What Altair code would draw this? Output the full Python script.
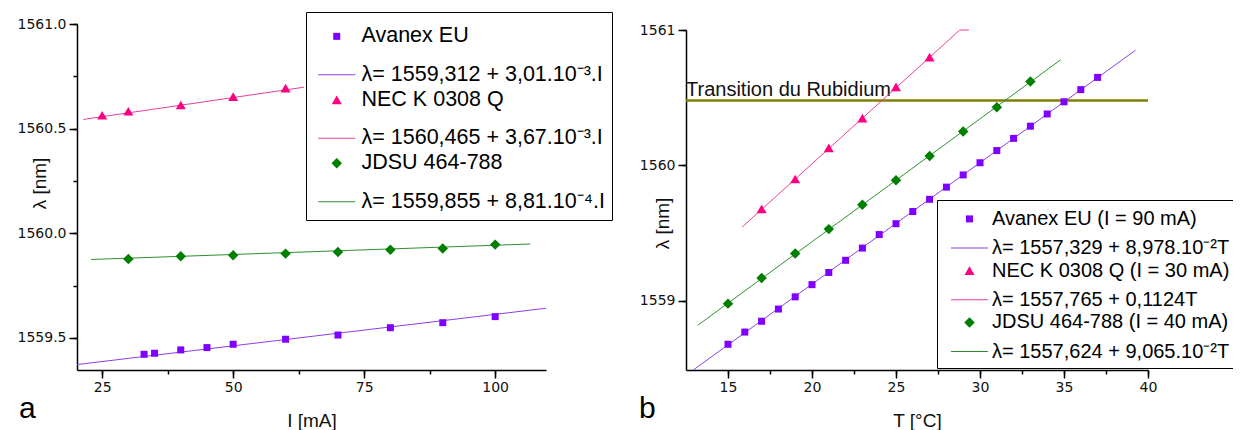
import altair as alt
import pandas as pd

FONT = "Liberation Sans"
TICKFONT = "DejaVu Sans"

# ---------------- panel a : wavelength vs current ----------------
a_I_avanex = [33, 35, 40, 45, 50, 60, 70, 80, 90, 100]
a_lam_avanex = [1559.422, 1559.427, 1559.443, 1559.454, 1559.470, 1559.494,
                1559.514, 1559.549, 1559.573, 1559.602]
a_I_nec = [25, 30, 40, 50, 60]
a_lam_nec = [1560.564, 1560.583, 1560.613, 1560.653, 1560.694]
a_I_jdsu = [30, 40, 50, 60, 70, 80, 90, 100]
a_lam_jdsu = [1559.877, 1559.890, 1559.895, 1559.903, 1559.911, 1559.922,
              1559.927, 1559.946]

a_fit_I_avanex = [20.2, 109.7]
a_fit_lam_avanex = [1559.373, 1559.642]
a_fit_I_nec = [21.4, 63.5]
a_fit_lam_nec = [1560.544, 1560.698]
a_fit_I_jdsu = [22.9, 106.7]
a_fit_lam_jdsu = [1559.875, 1559.949]

a_series = ["Avanex EU", "NEC K 0308 Q", "JDSU 464-788"]
a_fits = ["λ= 1559,312 + 3,01.10⁻³.I", "λ= 1560,465 + 3,67.10⁻³.I",
          "λ= 1559,855 + 8,81.10⁻⁴.I"]

a_x_domain = [20.2, 109.7]
a_y_domain = [1559.347, 1561.0]
a_x_major = [25, 50, 75, 100]
a_x_all = [25, 37.5, 50, 62.5, 75, 87.5, 100]
a_y_major = [1559.5, 1560.0, 1560.5, 1561.0]
a_y_all = [1559.5, 1559.75, 1560.0, 1560.25, 1560.5, 1560.75, 1561.0]

# ---------------- panel b : wavelength vs temperature ----------------
b_T_avanex = list(range(15, 38))
b_lam_avanex = [1558.68, 1558.77, 1558.85, 1558.94, 1559.03, 1559.12, 1559.21,
                1559.30, 1559.39, 1559.49, 1559.57, 1559.66, 1559.75, 1559.84,
                1559.93, 1560.02, 1560.11, 1560.20, 1560.29, 1560.38, 1560.47,
                1560.56, 1560.65]
b_T_nec = [17, 19, 21, 23, 25, 27]
b_lam_nec = [1559.68, 1559.90, 1560.13, 1560.35, 1560.58, 1560.80]
b_T_jdsu = [15, 17, 19, 21, 23, 25, 27, 29, 31, 33]
b_lam_jdsu = [1558.98, 1559.17, 1559.35, 1559.53, 1559.71, 1559.89, 1560.07,
              1560.25, 1560.43, 1560.62]

b_fit_T_avanex = [12.93, 39.25]
b_fit_lam_avanex = [1558.49, 1560.85]
b_fit_T_nec = [15.84, 28.8, 29.34]
b_fit_lam_nec = [1559.545, 1561.0, 1561.0]
b_fit_T_jdsu = [13.2, 34.8]
b_fit_lam_jdsu = [1558.82, 1560.78]

rb_label = ["Transition du Rubidium"]
rb_lambda = [1560.48]
rb_T_from = [12.5]
rb_T_to = [40.0]

b_series = ["Avanex EU (I = 90 mA)", "NEC K 0308 Q (I = 30 mA)",
            "JDSU 464-788 (I = 40 mA)"]
b_fits = ["λ= 1557,329 + 8,978.10⁻²T", "λ= 1557,765 + 0,1124T",
          "λ= 1557,624 + 9,065.10⁻²T"]

b_x_domain = [12.5, 40.0]
b_y_domain = [1558.49, 1561.0]
b_x_major = [15, 20, 25, 30, 35, 40]
b_x_all = [15, 17.5, 20, 22.5, 25, 27.5, 30, 32.5, 35, 37.5, 40]
b_y_major = [1559, 1560, 1561]
b_y_all = [1559, 1559.5, 1560, 1560.5, 1561]

# ---------------- styling ----------------
marker_colors = ["#7F00FF", "#FF0080", "#007F00"]
line_colors = ["#8A3FE6", "#E8409E", "#2F8F2F"]
marker_shapes = ["square", "triangle-up", "diamond"]
marker_sizes = [49, 100, 110]
LINE = "M-3.53,0H3.53"   # legend sample line, 37 px at symbol size 110

A_XR, A_YR = [69, 538], [362, 16]
B_XR, B_YR = [678, 1140], [362, 22]


def frame(xs, ys, label):
    return pd.DataFrame({"x": xs, "y": ys, "entry": label})


def labelled_axis(orient, values, step, fmt, title, offset, **kw):
    return alt.Axis(
        orient=orient, values=values, format=fmt, title=title, offset=offset,
        labelExpr=f"datum.value % {step} == 0 ? datum.label : ''",
        tickSize=4, grid=False, domainColor="black", domainWidth=1.5,
        tickColor="black", tickWidth=1.5, labelFont=TICKFONT, labelFontSize=14,
        labelColor="#111111", labelFlush=False, labelOverlap=False,
        titleFont=FONT, titleFontSize=19, titleFontWeight="normal",
        titleColor="#111111", **kw)


def major_tick_axis(orient, values, offset):
    return alt.Axis(orient=orient, values=values, labels=False, domain=False,
                    grid=False, tickSize=8, tickColor="black", tickWidth=1.5,
                    title=None, offset=offset)


def marker_legend(x, y, pad, row_pad, sym_off, lab_off, fs):
    return alt.Legend(title=None, orient="none", legendX=x, legendY=y,
                      padding=pad, labelFont=FONT, labelFontSize=fs,
                      labelColor="black", labelLimit=500, rowPadding=row_pad,
                      symbolOffset=sym_off, labelOffset=lab_off,
                      symbolStrokeWidth=0, zindex=2)


def line_legend(x, y, pad, row_pad, sym_off, lab_off, fs, head):
    # carries the white framed box; a blank title reserves the first row
    return alt.Legend(title=" ", titleFontSize=10, titlePadding=head,
                      titleColor="white", orient="none", legendX=x, legendY=y,
                      strokeColor="black", fillColor="white", padding=pad,
                      labelFont=FONT, labelFontSize=fs, labelColor="black",
                      labelLimit=500, rowPadding=row_pad, symbolOffset=sym_off,
                      labelOffset=lab_off, symbolType=LINE, symbolSize=110,
                      symbolStrokeWidth=1.2, zindex=1)


def scales(xdom, xrng, ydom, yrng):
    return (alt.Scale(domain=xdom, range=xrng, nice=False, zero=False),
            alt.Scale(domain=ydom, range=yrng, nice=False, zero=False))


def panel(pts, fits, series, fitnames, xdom, xrng, ydom, yrng, xall, xmaj,
          xstep, yall, ymaj, ystep, yfmt, xtitle, ytitle, ytx, yty, mleg, lleg):
    xs, ys = scales(xdom, xrng, ydom, yrng)
    yoff = -xrng[0]
    stroke = alt.Stroke("entry:N", scale=alt.Scale(domain=fitnames, range=line_colors),
                        legend=lleg)
    lines = alt.Chart(fits).mark_line(strokeWidth=1).encode(
        x=alt.X("x:Q", scale=xs,
                axis=labelled_axis("bottom", xall, xstep, "d", xtitle, 0,
                                   labelPadding=6, titleY=50,
                                   titleBaseline="middle")),
        y=alt.Y("y:Q", scale=ys,
                axis=labelled_axis("left", yall, ystep, yfmt, ytitle, yoff,
                                   labelPadding=7, titleX=ytx, titleY=yty,
                                   titleAngle=270, titleBaseline="middle",
                                   titleAlign="center")),
        stroke=stroke)
    points = alt.Chart(pts).mark_point(filled=True, opacity=1, strokeWidth=0).encode(
        x=alt.X("x:Q", scale=xs, axis=major_tick_axis("bottom", xmaj, 0)),
        y=alt.Y("y:Q", scale=ys, axis=major_tick_axis("left", ymaj, yoff)),
        fill=alt.Fill("entry:N", scale=alt.Scale(domain=series, range=marker_colors), legend=mleg),
        shape=alt.Shape("entry:N", scale=alt.Scale(domain=series, range=marker_shapes), legend=mleg),
        size=alt.Size("entry:N", scale=alt.Scale(type="ordinal", domain=series, range=marker_sizes), legend=mleg))
    return alt.layer(lines, points).resolve_axis(x="independent", y="independent")


# panel a
pts_a = pd.concat([frame(a_I_avanex, a_lam_avanex, a_series[0]),
                   frame(a_I_nec, a_lam_nec, a_series[1]),
                   frame(a_I_jdsu, a_lam_jdsu, a_series[2])])
fits_a = pd.concat([frame(a_fit_I_avanex, a_fit_lam_avanex, a_fits[0]),
                    frame(a_fit_I_nec, a_fit_lam_nec, a_fits[1]),
                    frame(a_fit_I_jdsu, a_fit_lam_jdsu, a_fits[2])])

panel_a = panel(pts_a, fits_a, a_series, a_fits, a_x_domain, A_XR, a_y_domain, A_YR,
                a_x_all, a_x_major, 25, a_y_all, a_y_major, 0.5, ".1f",
                "I [mA]", "λ [nm]", -38, 175,
                marker_legend(298, 10.6, 7, 40.5, 13, 14, 21.5),
                line_legend(298, 4, 7, 40.5, 13, 14, 21.5, 35))

# panel b
pts_b = pd.concat([frame(b_T_avanex, b_lam_avanex, b_series[0]),
                   frame(b_T_nec, b_lam_nec, b_series[1]),
                   frame(b_T_jdsu, b_lam_jdsu, b_series[2])])
fits_b = pd.concat([frame(b_fit_T_avanex, b_fit_lam_avanex, b_fits[0]),
                    frame(b_fit_T_nec, b_fit_lam_nec, b_fits[1]),
                    frame(b_fit_T_jdsu, b_fit_lam_jdsu, b_fits[2])])

panel_b = panel(pts_b, fits_b, b_series, b_fits, b_x_domain, B_XR, b_y_domain, B_YR,
                b_x_all, b_x_major, 5, b_y_all, b_y_major, 1, "d",
                "T [°C]", "λ [nm]", -24, 215,
                marker_legend(929, 194.9, 6, 31.75, 16.5, 12.5, 20),
                line_legend(929, 192, 6, 31.75, 16.5, 12.5, 20, 22))

# rubidium transition (drawn with the same scales as panel b)
rb = pd.DataFrame({"t0": rb_T_from, "t1": rb_T_to, "lam": rb_lambda, "label": rb_label})
rxs, rys = scales(b_x_domain, B_XR, b_y_domain, B_YR)
rb_rule = alt.Chart(rb).mark_rule(color="#808000", strokeWidth=2.5).encode(
    x=alt.X("t0:Q", scale=rxs, axis=None), x2="t1:Q",
    y=alt.Y("lam:Q", scale=rys, axis=None))
rb_text = alt.Chart(rb).mark_text(align="left", baseline="alphabetic", dy=-4,
                                  font=FONT, fontSize=20, color="#111111").encode(
    x=alt.X("t0:Q", scale=rxs, axis=None),
    y=alt.Y("lam:Q", scale=rys, axis=None), text="label:N")
rubidium = alt.layer(rb_rule, rb_text)

tag_df = pd.DataFrame({"t": ["a", "b"], "px": [11, 631]})
tags = alt.Chart(tag_df).mark_text(align="left", baseline="alphabetic", font=FONT,
                                   fontSize=30, color="black").encode(
    text="t:N",
    x=alt.X("px:Q", scale=alt.Scale(domain=[0, 1225], range=[0, 1225]), axis=None),
    y=alt.value(410))

chart = alt.layer(rubidium, panel_a, panel_b, tags).resolve_scale(
    x="independent", y="independent", fill="independent", stroke="independent",
    shape="independent", size="independent").resolve_axis(
    x="independent", y="independent").resolve_legend(
    fill="independent", stroke="independent", shape="independent",
    size="independent").properties(
    width=1225, height=362, autosize=alt.AutoSizeParams(type="none"),
    padding={"left": 0, "top": 0, "right": 0, "bottom": 60}
).configure_view(stroke=None)

chart.save("out.html", embed_options={"renderer": "svg", "actions": False})
